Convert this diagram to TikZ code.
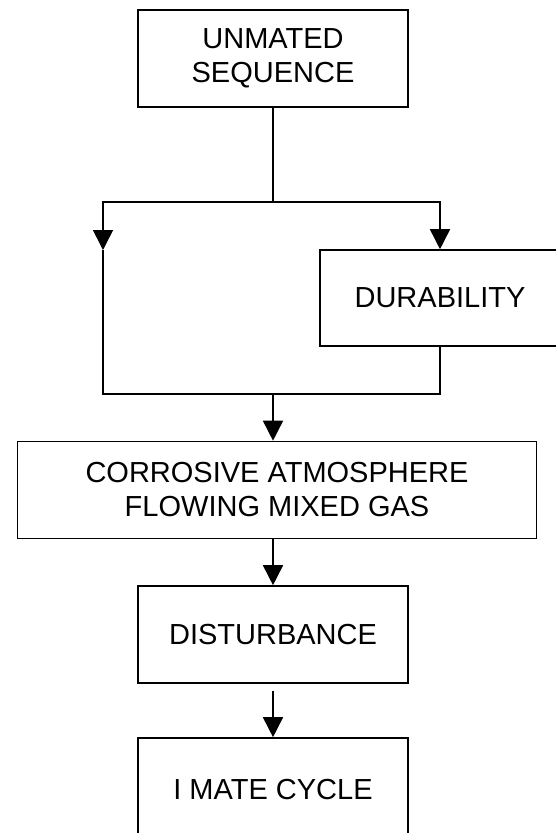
\documentclass[tikz,border=0pt]{standalone}
\usepackage{fontspec}
\setmainfont{Liberation Sans}
\usepackage{tikz}
\usetikzlibrary{arrows.meta}
\usetikzlibrary{positioning,calc}

\begin{document}
\begin{tikzpicture}[
  x=1pt, y=-1pt,
  flow/.style={-{Triangle[width=20pt,length=20pt]}, line width=1.6pt},
  link/.style={line width=1.6pt}
]
	\tikzstyle{stepBox} = [rectangle, minimum width=270pt, minimum height=97pt, text centered, align=center, draw=black, line width=1.6pt, inner sep=0pt, font=\fontsize{29}{34}\selectfont]
	\tikzstyle{wideBox} = [stepBox, minimum width=519pt]
	\tikzstyle{sideBox} = [stepBox, minimum width=240pt, minimum height=96pt]

	\useasboundingbox (0,0) rectangle (556,833);

	\node (unmated) [stepBox] at (273,58.5) {UNMATED\\SEQUENCE};
	\node (durability) [sideBox] at (440,298) {DURABILITY};
	\node (corrosive) [wideBox] at (277,490) {CORROSIVE ATMOSPHERE\\FLOWING MIXED GAS};
	\node (disturbance) [stepBox] at (273,634.5) {DISTURBANCE};
	\node (imate) [stepBox, minimum height=104pt] at (273,790) {I MATE CYCLE};

	\coordinate (split) at (273,202);
	\coordinate (leftTip) at (103,250);
	\coordinate (merge) at (273,394);

%	branch out
	\draw[link] (unmated) -- (split);
	\draw[flow] (split) -| (leftTip);
	\draw[flow] (split) -| (durability.north);
%	join again
	\draw[link] (leftTip) |- (merge) -| (durability.south);
	\draw[flow] (merge) -- (merge |- corrosive.north);
	\draw[flow] (corrosive.south -| merge) -- (disturbance);
	\draw[flow, shorten <=7pt] (disturbance) -- (imate);

\end{tikzpicture}
\end{document}
